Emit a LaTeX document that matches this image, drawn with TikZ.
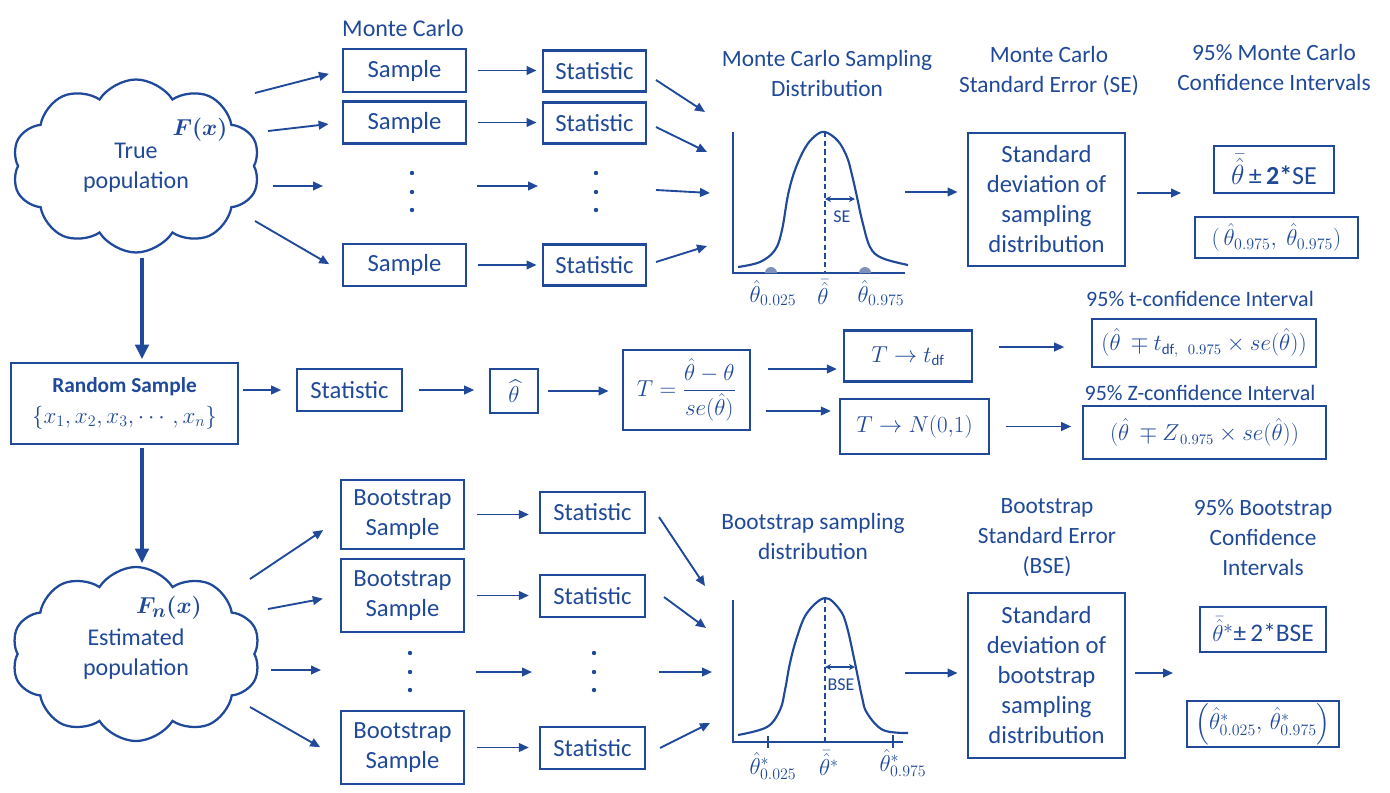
\documentclass[tikz,border=0pt]{standalone}
\usepackage{amsmath}
\usepackage{fontspec}
\setmainfont{Carlito}
\usetikzlibrary{arrows.meta,shapes.symbols}
\definecolor{mcblue}{RGB}{32,74,153}
\definecolor{mcmark}{RGB}{125,145,185}
\newcommand\fsA{\fontsize{18}{22.5}\selectfont}
\newcommand\fsT{\fontsize{17.5}{22.5}\selectfont}
\newcommand\fsB{\fontsize{18.5}{22.5}\selectfont}
\newcommand\fsM{\fontsize{16}{19}\selectfont}
\newcommand\fsL{\fontsize{16.5}{20}\selectfont}
\newcommand\fsS{\fontsize{13.5}{16}\selectfont}
\newcommand\fsP{\fontsize{18}{20}\selectfont}
\begin{document}
\begin{tikzpicture}[x=0.75pt,y=-0.75pt,
  every node/.style={text=mcblue},
  box/.style={draw=mcblue,line width=1.7pt,inner sep=0pt,align=center},
  sz/.style 2 args={minimum width=#1*0.75pt,minimum height=#2*0.75pt},
  arr/.style={draw=mcblue,line width=1.4pt,-{Triangle[length=7.5pt,width=6.5pt]}},
  tarr/.style={draw=mcblue,line width=3pt,-{Triangle[length=11pt,width=10pt]}},
  lbl/.style={inner sep=0pt,align=center},
  crv/.style={draw=mcblue,line width=1.6pt},
  dimarr/.style={draw=mcblue,line width=1.1pt,{Stealth[length=4.5pt,width=4.5pt]}-{Stealth[length=4.5pt,width=4.5pt]}},
  pop/.style={cloud,cloud puffs=10,cloud puff arc=115,aspect=1.43,draw=mcblue,line width=1.7pt,inner sep=0pt}
]
\fill[white] (0,0) rectangle (1390,793);
\useasboundingbox (0,0) rectangle (1390,793);

% ================= TOP: Monte Carlo =================
\node[pop,sz={248}{173}] (pop1) at (136,166) {};
\node[lbl,font=\fsA] (pop1t) at (136,168) {True\\population};
\node[lbl,font=\fontsize{19}{21}\selectfont] (fx) at (200,130) {$\boldsymbol{F(x)}$};

\node[lbl,font=\fsA] (mct) at (403,28) {Monte Carlo};
\node[box,sz={123}{43},font=\fsB] (s1) at (404.5,70.5) {Sample};
\node[box,sz={123}{42},font=\fsB] (s2) at (404.5,122.5) {Sample};
\node[box,sz={123}{42},font=\fsB] (s4) at (404.5,265) {Sample};
\node[box,sz={103}{41},font=\fsB] (t1) at (594.5,71) {Statistic};
\node[box,sz={103}{41},font=\fsB] (t2) at (594.5,123) {Statistic};
\node[box,sz={103}{41},font=\fsB] (t4) at (594.5,265) {Statistic};
\foreach \yy in {173,192,210}{
  \fill[mcblue] (412,\yy) circle[radius=2.2];
  \fill[mcblue] (596,\yy) circle[radius=2.2];
}

\coordinate (ca1) at (255,93);
\coordinate (ca2) at (268,131);
\coordinate (ca3) at (273,186);
\coordinate (cb3) at (323,186);
\coordinate (ca4) at (255,221);
\draw[arr,shorten >=10pt] (ca1) -- (s1.west);
\draw[arr,shorten >=10pt] (ca2) -- (s2.west);
\draw[arr] (ca3) -- (cb3);
\draw[arr,shorten >=11pt] (ca4) -- (s4.186);

\draw[arr,shorten <=8pt,shorten >=4pt] (s1.east) -- (s1.east -| t1.west);
\draw[arr,shorten <=8pt,shorten >=4pt] (s2.east) -- (s2.east -| t2.west);
\coordinate (sd1) at (477,186);
\coordinate (sd2) at (538,186);
\draw[arr] (sd1) -- (sd2);
\draw[arr,shorten <=8pt,shorten >=4pt] (s4.east) -- (s4.east -| t4.west);

\coordinate (ta1) at (656,80);  \coordinate (tb1) at (705,112);
\coordinate (ta2) at (656,127); \coordinate (tb2) at (707,152);
\coordinate (ta3) at (656,190); \coordinate (tb3) at (710,193);
\coordinate (ta4) at (656,262); \coordinate (tb4) at (707,246);
\draw[arr] (ta1) -- (tb1);
\draw[arr] (ta2) -- (tb2);
\draw[arr] (ta3) -- (tb3);
\draw[arr] (ta4) -- (tb4);

% top sampling distribution plot
\node[lbl,font=\fsT] (mcst) at (827,73) {Monte Carlo Sampling\\Distribution};
\draw[crv] (733,132) -- (733,273) -- (905,273);
\draw[crv] plot[smooth,tension=0.6] coordinates {(738,267) (760,262) (775,250) (782,230) (788,195) (795,170) (805,148) (815,136) (825,132) (838,141) (847,157) (852,175) (857,197) (862,220) (870,247) (882,258) (908,265)};
\draw[mcblue,line width=1.1pt,dash pattern=on 4pt off 2.5pt] (825,132) -- (825,273);
\draw[dimarr] (825,199) -- (855,199);
\node[lbl,font=\fsS] (se) at (842,217) {SE};
\fill[mcmark] (765,273) arc[start angle=180,end angle=360,radius=6];
\fill[mcmark] (859,273) arc[start angle=180,end angle=360,radius=6];
\node[lbl,font=\fsP] (q1) at (773,293) {$\hat{\theta}_{0.025}$};
\node[lbl,font=\fsP] (q2) at (823,292) {$\bar{\hat{\theta}}$};
\node[lbl,font=\fsP] (q3) at (881,293) {$\hat{\theta}_{0.975}$};

\coordinate (pe1) at (905,192);
\node[lbl,font=\fsT] (mcse) at (1049,71.5) {Monte Carlo\\Standard Error (SE)};
\node[box,sz={157}{133},font=\fsB] (sd1b) at (1046.5,199.5) {Standard\\deviation of\\sampling\\distribution};
\draw[arr,shorten >=7pt] (pe1) -- (pe1 -| sd1b.west);
\coordinate (pf1) at (1181,193);
\draw[arr,shorten <=8pt] (sd1b.east |- pf1) -- (pf1);

\node[lbl,font=\fsT] (mcci) at (1274,67.5) {95\% Monte Carlo\\Confidence Intervals};
\node[box,sz={120}{47},font=\fontsize{19.5}{22}\selectfont] (ci1) at (1274,169.5) {$\bar{\hat{\theta}}$\,±\,\textbf{2*}SE};
\node[box,sz={163}{41},font=\fontsize{18.5}{20}\selectfont] (ci2) at (1276.5,237.5) {$(\,\hat{\theta}_{0.975},\ \hat{\theta}_{0.975})$};

% ================= MIDDLE =================
\coordinate (v1) at (142,258);
\node[box,sz={227}{81},font=\fontsize{18.7}{23}\selectfont] (rs) at (124.5,403.5)
  {{\fontsize{16}{23}\selectfont\bfseries Random Sample}\\$\{x_1, x_2, x_3, \cdots, x_n\}$};
\draw[tarr,shorten >=2pt] (v1) -- (v1 |- rs.north);
\node[box,sz={105}{42},font=\fsB] (st) at (349.5,390) {Statistic};
\node[box,sz={48}{44},font=\fontsize{19}{20}\selectfont] (th) at (514,391) {$\widehat{\theta}$};
\node[box,sz={127}{80},font=\fsL] (tb) at (686.5,390) {$T=\dfrac{\hat{\theta}-\theta}{se(\hat{\theta})}$};
\node[box,sz={128}{51},font=\fsM] (tt) at (908,356) {$T\rightarrow t_{\mathrm{df}}$};
\node[box,sz={149}{55},font=\fsM] (tn) at (914.5,426.5) {$T\rightarrow N(0{,}1)$};
\node[box,sz={224}{48},font=\fsM] (cit) at (1204,343) {$(\hat{\theta}\ \mp t_{\mathrm{df},\ \ 0.975}\times se(\hat{\theta}))$};
\node[box,sz={243}{53},font=\fsM] (ciz) at (1204.5,432.5) {$(\hat{\theta}\ \mp Z_{\,0.975}\times se(\hat{\theta}))$};
\node[lbl,font=\fsL] (lt) at (1200,299) {95\% t-confidence Interval};
\node[lbl,font=\fsL] (lz) at (1200,393) {95\% Z-confidence Interval};

\draw[arr,shorten <=3pt,shorten >=11pt] (rs.east |- st.west) -- (st.west);
\draw[arr,shorten <=12pt,shorten >=11pt] (st.east) -- (st.east -| th.west);
\draw[arr,shorten <=7pt,shorten >=10pt] (th.east) -- (th.east -| tb.west);
\draw[arr,shorten <=13pt,shorten >=4.5pt] ([yshift=15.75pt]tb.east) -- ([yshift=15.75pt]tb.east -| tt.west);
\draw[arr,shorten <=11pt,shorten >=6pt] ([yshift=-15.75pt]tb.east) -- ([yshift=-15.75pt]tb.east -| tn.west);
\draw[arr,shorten <=19.5pt,shorten >=20pt] ([yshift=6.75pt]tt.east) -- ([yshift=6.75pt]tt.east -| cit.west);
\draw[arr,shorten <=12pt,shorten >=8pt] (tn.east) -- (tn.east -| ciz.west);

% ================= BOTTOM: Bootstrap =================
\node[pop,sz={249}{174}] (pop2) at (136,654) {};
\node[lbl,font=\fsA] (pop2t) at (136,654) {Estimated\\population};
\node[lbl,font=\fontsize{19}{21}\selectfont] (fnx) at (169,608) {$\boldsymbol{F_n(x)}$};
\coordinate (v2) at (142,448);
\draw[tarr,shorten >=2pt] (v2) -- (v2 |- pop2.north);

\node[box,sz={123}{69},font=\fsB] (b1) at (402.5,514.5) {Bootstrap\\Sample};
\node[box,sz={123}{73},font=\fsB] (b2) at (402.5,595.5) {Bootstrap\\Sample};
\node[box,sz={123}{73},font=\fsB] (b4) at (402.5,747.5) {Bootstrap\\Sample};
\node[box,sz={105}{41},font=\fsB] (u1) at (592.5,512.5) {Statistic};
\node[box,sz={105}{42},font=\fsB] (u2) at (592.5,596) {Statistic};
\node[box,sz={105}{42},font=\fsB] (u4) at (592.5,748) {Statistic};
\foreach \yy in {653,672,690}{
  \fill[mcblue] (410,\yy) circle[radius=2.2];
  \fill[mcblue] (594,\yy) circle[radius=2.2];
}

\coordinate (da1) at (250,579);
\coordinate (da2) at (268,609);
\coordinate (da3) at (271,670);
\coordinate (db3) at (321,670);
\coordinate (da4) at (250,707);
\draw[arr,shorten >=15pt] (da1) -- (b1.184);
\draw[arr,shorten >=13pt] (da2) -- (b2.west);
\draw[arr] (da3) -- (db3);
\draw[arr,shorten >=17pt] (da4) -- (b4.190);

\draw[arr,shorten <=9pt,shorten >=7.5pt] (b1.east) -- (b1.east -| u1.west);
\draw[arr,shorten <=9pt,shorten >=7.5pt] (b2.east) -- (b2.east -| u2.west);
\coordinate (ed1) at (476,672);
\coordinate (ed2) at (532,672);
\draw[arr] (ed1) -- (ed2);
\draw[arr,shorten <=9pt,shorten >=7.5pt] (b4.east) -- (b4.east -| u4.west);

\coordinate (ua1) at (659,517); \coordinate (ub1) at (705,586);
\coordinate (ua2) at (664,597); \coordinate (ub2) at (706,628);
\coordinate (ua3) at (659,672); \coordinate (ub3) at (712,672);
\coordinate (ua4) at (660,748); \coordinate (ub4) at (710,723);
\draw[arr] (ua1) -- (ub1);
\draw[arr] (ua2) -- (ub2);
\draw[arr] (ua3) -- (ub3);
\draw[arr] (ua4) -- (ub4);

% bottom sampling distribution plot
\node[lbl,font=\fsT] (bst) at (813,536.5) {Bootstrap sampling\\distribution};
\draw[crv] (733,600) -- (733,742) -- (903,742);
\draw[crv] plot[smooth,tension=0.6] coordinates {(738,735) (767,727) (780,710) (785,690) (790,663) (797,637) (807,613) (825,598) (840,610) (847,627) (855,663) (862,697) (867,713) (883,730) (908,733)};
\draw[mcblue,line width=1.4pt,dash pattern=on 4pt off 2.5pt] (825,598) -- (825,742);
\draw[dimarr] (825,667) -- (855,667);
\node[lbl,font=\fsS] (bse) at (841,685) {BSE};
\draw[mcblue,line width=1.3pt] (768,736) -- (768,748);
\draw[mcblue,line width=1.3pt] (893,735) -- (893,748);
\node[lbl,font=\fsP] (r1) at (773,766) {$\hat{\theta}^{*}_{0.025}$};
\node[lbl,font=\fsP] (r2) at (829,763) {$\bar{\hat{\theta}}^{*}$};
\node[lbl,font=\fsP] (r3) at (903,763) {$\hat{\theta}^{*}_{0.975}$};

\coordinate (pe2) at (905,673);
\node[lbl,font=\fsT] (bsetl) at (1047,538) {Bootstrap\\Standard Error\\(BSE)};
\node[box,sz={157}{165},font=\fsB] (sd2b) at (1046.5,675.5) {Standard\\deviation of\\bootstrap\\sampling\\distribution};
\draw[arr,shorten >=7pt] (pe2) -- (pe2 -| sd2b.west);
\coordinate (pf2) at (1173,673);
\draw[arr,shorten <=7pt] (sd2b.east |- pf2) -- (pf2);

\node[lbl,font=\fsT] (bci) at (1263,537.5) {95\% Bootstrap\\Confidence\\Intervals};
\node[box,sz={126}{45},font=\fontsize{19}{22}\selectfont] (ci3) at (1263,629.5) {$\bar{\hat{\theta}}^{*}$±\,2*BSE};
\node[box,sz={152}{46},font=\fontsize{17}{20}\selectfont] (ci4) at (1263,724) {$\Big(\hat{\theta}^{*}_{0.025},\,\hat{\theta}^{*}_{0.975}\Big)$};
\end{tikzpicture}
\end{document}
